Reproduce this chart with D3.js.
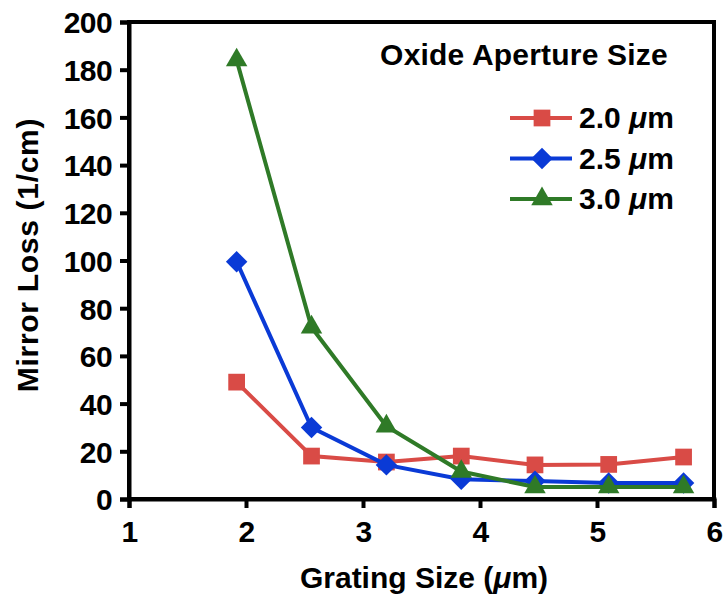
<!DOCTYPE html>
<html>
<head>
<meta charset="utf-8">
<script src="https://cdn.jsdelivr.net/npm/d3@7"></script>
<style>
  body { margin: 0; background: #fff; }
  text { font-family: "Liberation Sans", Arial, sans-serif; font-weight: bold; }
</style>
</head>
<body>
<svg width="728" height="601"></svg>
<script>
const gratingSize = [1.92, 2.56, 3.2, 3.84, 4.47, 5.1, 5.74];
const loss20 = [49, 18, 15.5, 18, 14.3, 14.5, 17.6];
const loss25 = [99.5, 30, 14.3, 8.3, 7.5, 6.7, 6.7];
const loss30 = [184, 72, 30.5, 11.5, 5, 5, 5];
const seriesNames = ["2.0", "2.5", "3.0"];
const xTicks = [1, 2, 3, 4, 5, 6];
const yTicks = [0, 20, 40, 60, 80, 100, 120, 140, 160, 180, 200];

const series = [
    { name: seriesNames[0], values: loss20, color: "#d94b46", shape: d3.symbolSquare, size: 280, rot: 0 },
    { name: seriesNames[1], values: loss25, color: "#0a3ad6", shape: d3.symbolSquare, size: 230, rot: 45 },
    { name: seriesNames[2], values: loss30, color: "#2f7a27", shape: d3.symbolTriangle, size: 200, rot: 0 }
];

const svg = d3.select("svg");
const margin = { left: 129, right: 14, top: 22, bottom: 102 };
const width = 728 - margin.left - margin.right;
const height = 601 - margin.top - margin.bottom;

const x = d3.scaleLinear().domain([1, 6]).range([0, width]);
const y = d3.scaleLinear().domain([0, 200]).range([height, 0]);

const g = svg.append("g").attr("transform", `translate(${margin.left},${margin.top})`);

// frame
g.append("rect")
    .attr("width", width).attr("height", height)
    .attr("fill", "none").attr("stroke", "black").attr("stroke-width", 4);

const xAxis = g.append("g")
    .attr("transform", `translate(0,${height})`)
    .call(d3.axisBottom(x).tickValues(xTicks).tickSize(9).tickPadding(13).tickFormat(d3.format("d")));
const yAxis = g.append("g")
    .call(d3.axisLeft(y).tickValues(yTicks).tickSize(9).tickPadding(8));

[xAxis, yAxis].forEach(a => {
    a.select(".domain").attr("stroke-width", 4);
    a.selectAll(".tick line").attr("stroke-width", 4);
    a.selectAll(".tick text").attr("font-size", 30).attr("fill", "black")
        .style("letter-spacing", "-0.6px")
        .style("font-family", "'Liberation Sans', Arial, sans-serif").style("font-weight", "bold");
});
yAxis.selectAll(".tick text").attr("dy", "0.36em");

const line = d3.line().x((d, i) => x(gratingSize[i])).y(d => y(d));

series.forEach(s => {
    g.append("path")
        .datum(s.values)
        .attr("fill", "none")
        .attr("stroke", s.color)
        .attr("stroke-width", 4)
        .attr("d", line);
    g.selectAll(null)
        .data(s.values)
        .enter().append("path")
        .attr("transform", (d, i) => `translate(${x(gratingSize[i])},${y(d)}) rotate(${s.rot})`)
        .attr("d", d3.symbol().type(s.shape).size(s.size))
        .attr("fill", s.color);
});

// axis titles
const xt = svg.append("text")
    .attr("x", 424).attr("y", 588)
    .attr("text-anchor", "middle").attr("font-size", 30);
xt.append("tspan").text("Grating Size (");
xt.append("tspan").attr("font-style", "italic").text("μ");
xt.append("tspan").text("m)");

svg.append("text")
    .attr("transform", `translate(38,255) rotate(-90)`)
    .attr("text-anchor", "middle").attr("font-size", 30)
    .style("letter-spacing", "0.7px")
    .text("Mirror Loss (1/cm)");

// legend
svg.append("text")
    .attr("x", 524).attr("y", 65)
    .attr("text-anchor", "middle").attr("font-size", 30)
    .style("letter-spacing", "0.2px")
    .text("Oxide Aperture Size");

const legend = svg.append("g").attr("transform", "translate(510,118)");
series.forEach((s, i) => {
    const row = legend.append("g").attr("transform", `translate(0,${i * 40.5})`);
    row.append("line").attr("x1", 0).attr("x2", 62)
        .attr("stroke", s.color).attr("stroke-width", 4);
    row.append("path").attr("transform", `translate(32,0) rotate(${s.rot})`)
        .attr("d", d3.symbol().type(s.shape).size(s.size)).attr("fill", s.color);
    const t = row.append("text").attr("x", 69).attr("y", 10).attr("font-size", 30);
    t.append("tspan").text(s.name + " ");
    t.append("tspan").attr("font-style", "italic").text("μ");
    t.append("tspan").text("m");
});
</script>
</body>
</html>
